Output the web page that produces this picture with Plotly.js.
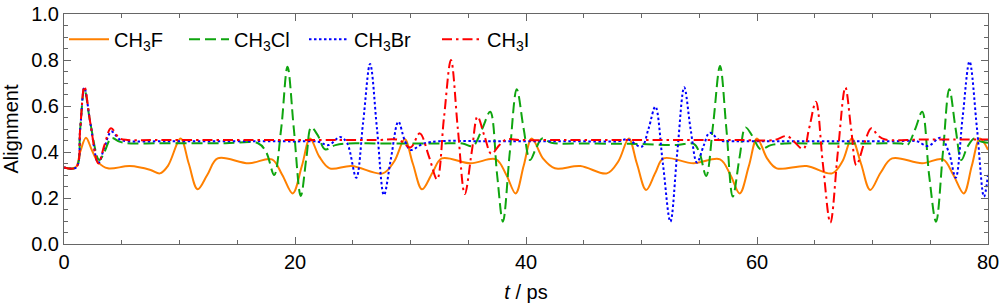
<!DOCTYPE html>
<html>
<head>
<meta charset="utf-8">
<script src="https://cdn.plot.ly/plotly-3.0.1.min.js"></script>
<style>html,body{margin:0;padding:0;background:#fff;}#chart{width:1000px;height:308px;}</style>
</head>
<body>
<div id="chart"></div>
<script>
// Series names
const names = ['CH<sub>3</sub>F', 'CH<sub>3</sub>Cl', 'CH<sub>3</sub>Br', 'CH<sub>3</sub>I'];

// CH3F (orange)
const tF = [0, 1.0, 1.4, 1.9, 2.4, 2.97, 3.8, 5.7, 7.5, 8.3, 9.0, 10.1, 10.8, 11.57, 12.4, 13.3, 16.0, 18.0, 18.9, 19.8, 20.6, 21.3, 22.1, 23.0, 24.9, 27.6, 28.6, 29.5, 30.2, 31.0, 31.9, 32.7, 35.2, 37.4, 38.3, 39.1, 39.8, 40.5, 41.5, 42.5, 44.7, 47.0, 48.0, 48.9, 49.6, 50.4, 51.2, 51.9, 54.5, 56.8, 57.7, 58.5, 59.3, 60.0, 60.9, 61.7, 64.3, 66.5, 67.4, 68.2, 69.0, 69.8, 70.7, 71.7, 74.3, 76.1, 77.0, 77.9, 78.6, 79.3, 80];
const yF = [0.333, 0.333, 0.40, 0.462, 0.41, 0.355, 0.329, 0.339, 0.322, 0.307, 0.34, 0.459, 0.35, 0.238, 0.30, 0.372, 0.351, 0.368, 0.30, 0.22, 0.34, 0.459, 0.38, 0.329, 0.339, 0.307, 0.36, 0.455, 0.35, 0.238, 0.31, 0.372, 0.351, 0.368, 0.30, 0.22, 0.34, 0.459, 0.37, 0.329, 0.339, 0.307, 0.36, 0.459, 0.35, 0.235, 0.31, 0.372, 0.351, 0.368, 0.30, 0.22, 0.34, 0.459, 0.37, 0.329, 0.339, 0.307, 0.36, 0.459, 0.35, 0.235, 0.31, 0.372, 0.351, 0.368, 0.30, 0.22, 0.34, 0.459, 0.41];

// CH3Cl (green)
const tCl = [0, 1.05, 1.4, 1.76, 2.3, 3.05, 3.5, 4.1, 4.8, 5.5, 8, 11, 14, 16.8, 17.5, 18.2, 18.8, 19.35, 19.9, 20.5, 21.0, 21.4, 22.0, 22.6, 23.5, 24.5, 27, 30, 32.5, 34.5, 35.4, 36.2, 36.9, 37.5, 38.0, 38.6, 39.2, 39.8, 40.35, 40.9, 41.4, 42.2, 45, 48, 50, 53, 54.5, 55.0, 55.6, 56.2, 56.8, 57.35, 57.9, 58.5, 59.0, 59.6, 60.3, 61.2, 62.5, 65, 68, 70, 72.5, 73.0, 73.7, 74.3, 74.9, 75.5, 76.1, 76.65, 77.2, 77.7, 78.2, 78.8, 79.4, 80];
const yCl = [0.333, 0.333, 0.50, 0.675, 0.52, 0.365, 0.40, 0.46, 0.445, 0.438, 0.438, 0.438, 0.438, 0.438, 0.40, 0.30, 0.50, 0.771, 0.50, 0.209, 0.38, 0.507, 0.47, 0.412, 0.43, 0.437, 0.437, 0.437, 0.437, 0.437, 0.426, 0.50, 0.575, 0.30, 0.097, 0.40, 0.673, 0.50, 0.365, 0.42, 0.459, 0.44, 0.437, 0.436, 0.435, 0.43, 0.436, 0.40, 0.296, 0.52, 0.774, 0.50, 0.206, 0.38, 0.507, 0.47, 0.412, 0.43, 0.437, 0.437, 0.437, 0.437, 0.437, 0.43, 0.50, 0.575, 0.30, 0.097, 0.40, 0.673, 0.50, 0.365, 0.42, 0.459, 0.445, 0.44];

// CH3Br (blue)
const tBr = [0, 1.05, 1.4, 1.76, 2.3, 2.97, 3.5, 4.1, 4.8, 5.5, 9, 13, 17, 20, 22.0, 22.9, 23.9, 24.5, 25.3, 25.9, 26.5, 27.1, 27.7, 28.3, 28.95, 29.5, 30.0, 31.1, 32.5, 36, 40, 44, 48.0, 48.8, 50.0, 50.6, 51.2, 51.85, 52.5, 53.1, 53.7, 54.25, 54.8, 55.4, 55.9, 56.8, 58, 62, 66, 70, 72, 73.8, 74.8, 75.9, 76.6, 77.2, 77.8, 78.4, 79.05, 79.65, 80];
const yBr = [0.333, 0.333, 0.50, 0.68, 0.52, 0.352, 0.42, 0.489, 0.455, 0.447, 0.447, 0.447, 0.447, 0.446, 0.445, 0.43, 0.465, 0.44, 0.288, 0.53, 0.783, 0.50, 0.213, 0.37, 0.532, 0.45, 0.409, 0.436, 0.447, 0.447, 0.447, 0.447, 0.447, 0.455, 0.423, 0.50, 0.597, 0.35, 0.097, 0.40, 0.681, 0.50, 0.354, 0.43, 0.484, 0.45, 0.447, 0.447, 0.447, 0.447, 0.447, 0.447, 0.426, 0.462, 0.40, 0.288, 0.55, 0.793, 0.50, 0.206, 0.30];

// CH3I (red)
const tI = [0, 1.05, 1.4, 1.76, 2.3, 2.97, 3.5, 4.07, 4.8, 5.5, 8, 12, 16, 20, 24, 27, 29.0, 30.0, 30.8, 31.6, 32.3, 32.9, 33.5, 34.1, 34.7, 35.3, 35.8, 36.4, 37.0, 37.7, 38.3, 39.5, 43, 47, 51, 55, 58.5, 61.5, 62.6, 64.0, 64.5, 65.1, 65.7, 66.35, 67.0, 67.65, 68.15, 68.6, 69.3, 69.9, 70.5, 71.1, 74, 77, 80];
const yI = [0.333, 0.333, 0.50, 0.685, 0.52, 0.35, 0.43, 0.503, 0.46, 0.452, 0.452, 0.452, 0.452, 0.452, 0.452, 0.452, 0.452, 0.42, 0.481, 0.38, 0.281, 0.55, 0.80, 0.50, 0.217, 0.40, 0.554, 0.47, 0.392, 0.43, 0.455, 0.452, 0.452, 0.452, 0.452, 0.452, 0.452, 0.452, 0.469, 0.414, 0.50, 0.619, 0.35, 0.093, 0.40, 0.681, 0.50, 0.343, 0.44, 0.503, 0.47, 0.454, 0.454, 0.454, 0.454];

const xTickVals = [0, 20, 40, 60, 80];
const yTickVals = [0.0, 0.2, 0.4, 0.6, 0.8, 1.0];
const yTickText = ['0.0', '0.2', '0.4', '0.6', '0.8', '1.0'];

const FONT = 'Liberation Sans, Arial, sans-serif';
const traces = [
  {x: tF, y: yF, name: names[0], color: '#FF8000', dash: 'solid', w: 65},
  {x: tCl, y: yCl, name: names[1], color: '#0FA50F', dash: '11px,5px', w: 65},
  {x: tBr, y: yBr, name: names[2], color: '#0000FF', dash: '2.5px,2.5px', w: 78},
  {x: tI, y: yI, name: names[3], color: '#FF0000', dash: '10px,4px,2.5px,4px', w: 60}
].map(s => ({
  type: 'scatter', mode: 'lines', x: s.x, y: s.y, name: s.name,
  line: {color: s.color, width: 2, dash: s.dash, shape: 'spline', smoothing: 1},
  legendwidth: s.w
}));

const axisCommon = {
  showline: true, linecolor: '#666', linewidth: 1, mirror: 'ticks',
  ticks: 'inside', ticklen: 7, tickcolor: '#666', tickwidth: 1,
  showgrid: false, zeroline: false,
  tickfont: {family: FONT, size: 20, color: '#000'}
};

const layout = {
  width: 1000, height: 308,
  margin: {l: 64, r: 12, t: 14, b: 64},
  paper_bgcolor: '#fff', plot_bgcolor: '#fff',
  showlegend: true,
  legend: {
    orientation: 'h', x: 0.0, y: 0.975, xanchor: 'left', yanchor: 'top',
    bgcolor: 'rgba(0,0,0,0)', font: {family: FONT, size: 20, color: '#000'},
    itemwidth: 40, tracegroupgap: 0
  },
  xaxis: Object.assign({}, axisCommon, {
    range: [0, 80], tickvals: xTickVals, ticktext: xTickVals.map(String),
    minor: {dtick: 5, tick0: 0, ticks: 'inside', ticklen: 4, tickcolor: '#666'},
    title: {text: '<i>t</i> / ps', font: {family: FONT, size: 20, color: '#000'}, standoff: 12}
  }),
  yaxis: Object.assign({}, axisCommon, {
    range: [0, 1], tickvals: yTickVals, ticktext: yTickText,
    minor: {dtick: 0.05, tick0: 0, ticks: 'inside', ticklen: 4, tickcolor: '#666'},
    title: {text: 'Alignment', font: {family: FONT, size: 20, color: '#000'}, standoff: 8}
  })
};

Plotly.newPlot('chart', traces, layout, {displayModeBar: false, staticPlot: true});
</script>
</body>
</html>
